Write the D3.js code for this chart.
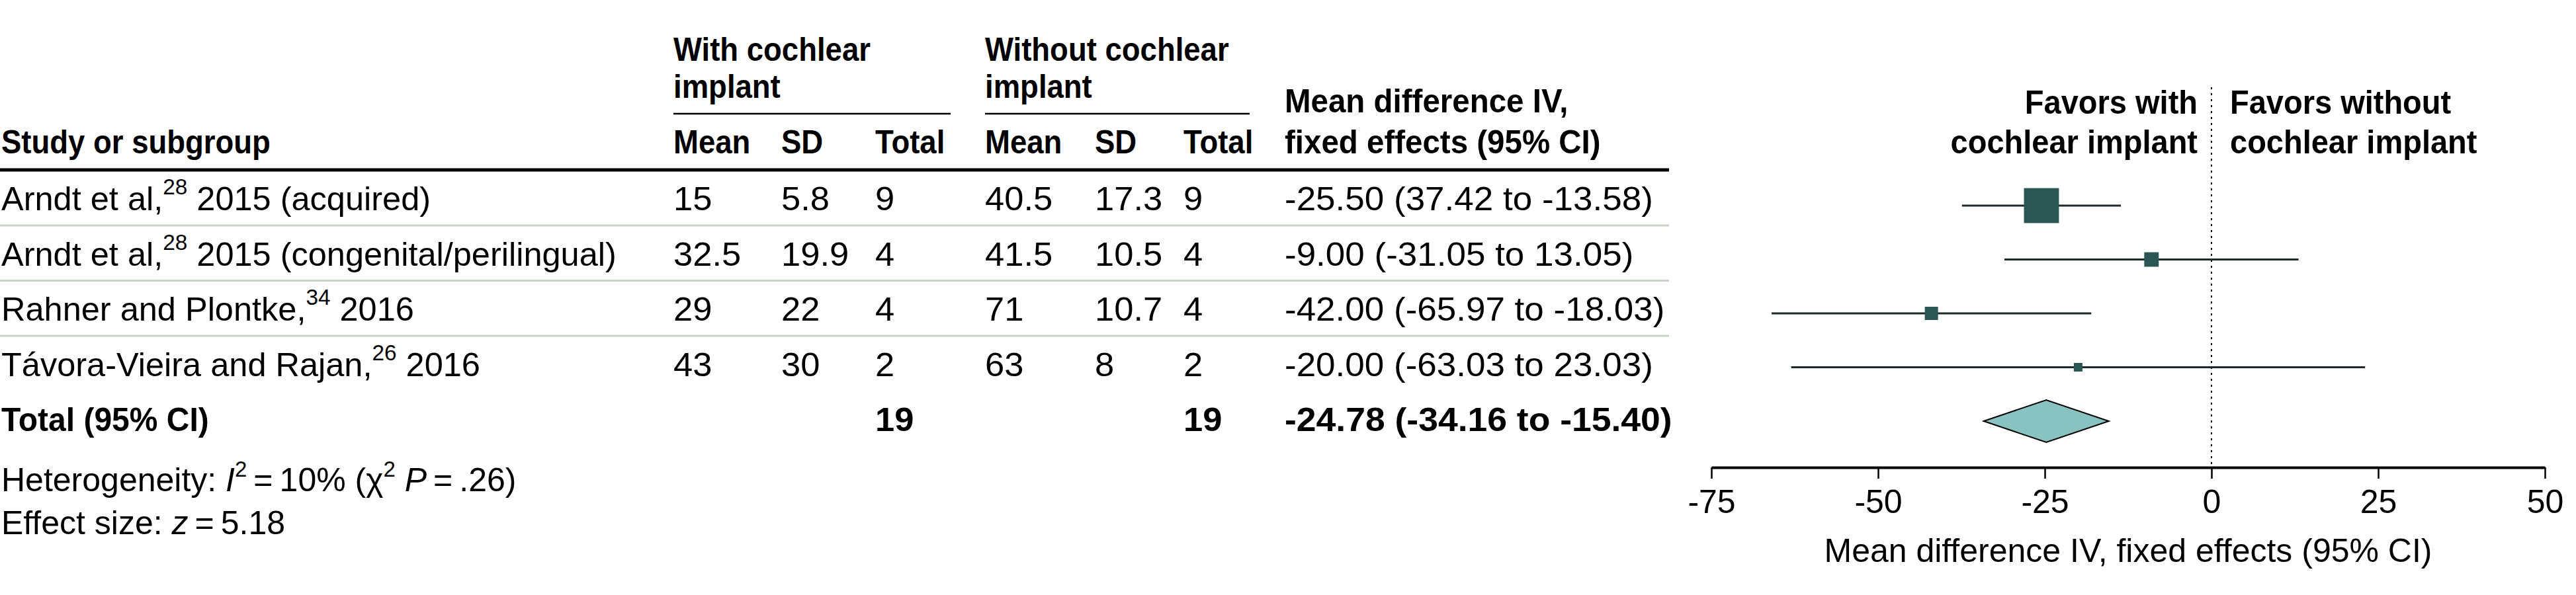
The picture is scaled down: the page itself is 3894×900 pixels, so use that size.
<!DOCTYPE html>
<html>
<head>
<meta charset="utf-8">
<script src="https://cdn.jsdelivr.net/npm/d3@7"></script>
<style>
  body { margin: 0; background: #fff; }
  text { font-family: "Liberation Sans", Arial, sans-serif; fill: #000; }
</style>
</head>
<body>
<div id="chart"></div>
<script>
// study rows
var studyNames = ["Arndt et al,", "Arndt et al,", "Rahner and Plontke,", "Távora-Vieira and Rajan,"];
var studyRefs = ["28", "28", "34", "26"];
var studyTails = ["2015 (acquired)", "2015 (congenital/perilingual)", "2016", "2016"];

var withMean = [15, 32.5, 29, 43];
var withSD = [5.8, 19.9, 22, 30];
var withN = [9, 4, 4, 2];
var withoutMean = [40.5, 41.5, 71, 63];
var withoutSD = [17.3, 10.5, 10.7, 8];
var withoutN = [9, 4, 4, 2];

var mdValue = [-25.50, -9.00, -42.00, -20.00];
var mdLow = [-37.42, -31.05, -65.97, -63.03];
var mdHigh = [-13.58, 13.05, -18.03, 23.03];
var mdText = ["-25.50 (37.42 to -13.58)", "-9.00 (-31.05 to 13.05)", "-42.00 (-65.97 to -18.03)", "-20.00 (-63.03 to 23.03)"];
// approximate weights (%)
var weights = [72.7, 12.5, 10.4, 4.4];

var totalN = [19, 19];
var totalMd = [-24.78, -34.16, -15.40];
var totalText = "-24.78 (-34.16 to -15.40)";

var tickValues = [-75, -50, -25, 0, 25, 50];
var tickLabels = ["-75", "-50", "-25", "0", "25", "50"];

var W = 3894, H = 900, FS = 50;
// horizontal squeeze so Liberation Sans widths follow the original face
var BOLD_SX = 0.91, BODY_SX = 1.01, NUM_SX = 1.05;

var svg = d3.select("#chart").append("svg")
    .attr("width", W).attr("height", H)
    .style("display", "block");

// columns of the table
var col = {study: 2, mean1: 1018, sd1: 1181, n1: 1323, mean2: 1489, sd2: 1655, n2: 1789, md: 1942};
var yRow = d3.scaleLinear().domain([0, 4]).range([318, 652]);

function txt(x, y, s, bold, sx) {
    sx = sx || (bold ? BOLD_SX : 1);
    return svg.append("text")
        .attr("transform", "translate(" + x + "," + y + ") scale(" + sx + ",1)")
        .style("font-size", FS + "px")
        .style("font-weight", bold ? "bold" : "normal")
        .text(s);
}

// header
txt(col.mean1, 92, "With cochlear", true);
txt(col.mean1, 148, "implant", true);
txt(col.mean2, 92, "Without cochlear", true);
txt(col.mean2, 148, "implant", true);
svg.append("line").attr("x1", col.mean1).attr("x2", 1437).attr("y1", 172).attr("y2", 172)
    .attr("stroke", "#000").attr("stroke-width", 2.5);
svg.append("line").attr("x1", col.mean2).attr("x2", 1889).attr("y1", 172).attr("y2", 172)
    .attr("stroke", "#000").attr("stroke-width", 2.5);
txt(col.md, 170, "Mean difference IV,", true, 0.95);
txt(col.md, 232, "fixed effects (95% CI)", true, 0.95);
txt(col.study, 232, "Study or subgroup", true);
[["Mean", col.mean1], ["SD", col.sd1], ["Total", col.n1],
 ["Mean", col.mean2], ["SD", col.sd2], ["Total", col.n2]].forEach(function(h) {
    txt(h[1], 232, h[0], true);
});

svg.append("line").attr("x1", 0).attr("x2", 2523).attr("y1", 257).attr("y2", 257)
    .attr("stroke", "#000").attr("stroke-width", 5);

// row separators
svg.selectAll("line.sep").data(d3.range(studyNames.length - 1)).enter()
    .append("line").attr("class", "sep")
    .attr("x1", 0).attr("x2", 2523)
    .attr("y1", function(d) { return yRow(d) + 23; })
    .attr("y2", function(d) { return yRow(d) + 23; })
    .attr("stroke", "#c6d5c3").attr("stroke-width", 3);

// study rows
studyNames.forEach(function(name, i) {
    var y = yRow(i);
    var t = txt(col.study, y, "", false, BODY_SX);
    t.append("tspan").text(name);
    t.append("tspan").attr("dy", -24).style("font-size", "33px").text(studyRefs[i]);
    t.append("tspan").attr("dy", 24).text(" " + studyTails[i]);
    txt(col.mean1, y, String(withMean[i]), false, NUM_SX);
    txt(col.sd1, y, String(withSD[i]), false, NUM_SX);
    txt(col.n1, y, String(withN[i]), false, NUM_SX);
    txt(col.mean2, y, String(withoutMean[i]), false, NUM_SX);
    txt(col.sd2, y, String(withoutSD[i]), false, NUM_SX);
    txt(col.n2, y, String(withoutN[i]), false, NUM_SX);
    txt(col.md, y, mdText[i], false, 1.06);
});

// total row
txt(col.study, yRow(4), "Total (95% CI)", true, 0.96);
txt(col.n1, yRow(4), String(totalN[0]), true, 1.05);
txt(col.n2, yRow(4), String(totalN[1]), true, 1.05);
txt(col.md, yRow(4), totalText, true, 1.07);

// heterogeneity and effect size
var het = txt(col.study, 743, "");
het.append("tspan").text("Heterogeneity: ");
het.append("tspan").style("font-style", "italic").text("I");
het.append("tspan").attr("dy", -22).style("font-size", "33px").text("2");
het.append("tspan").attr("dy", 22).text("\u2009=\u200910% (\u03c7");
het.append("tspan").attr("dy", -22).style("font-size", "33px").text("2");
het.append("tspan").attr("dy", 22).text(" ");
het.append("tspan").style("font-style", "italic").text("P");
het.append("tspan").text("\u2009=\u2009.26)");

var eff = txt(col.study, 808, "");
eff.append("tspan").text("Effect size: ");
eff.append("tspan").style("font-style", "italic").text("z");
eff.append("tspan").text("\u2009=\u20095.18");

// forest plot
var x = d3.scaleLinear().domain([-75, 50]).range([2587, 3847]);
var yPlot = d3.scaleLinear().domain([0, 4]).range([311, 637]);
var size = d3.scaleSqrt().domain([0, 100]).range([0, 62]);
var axisY = 707;

svg.append("line")
    .attr("x1", x(0)).attr("x2", x(0))
    .attr("y1", 132).attr("y2", axisY)
    .attr("stroke", "#000").attr("stroke-width", 2)
    .attr("stroke-dasharray", "3,6");

var rows = svg.append("g").selectAll("g").data(mdValue).enter().append("g");
rows.append("line")
    .attr("x1", function(d, i) { return x(mdLow[i]); })
    .attr("x2", function(d, i) { return x(mdHigh[i]); })
    .attr("y1", function(d, i) { return yPlot(i); })
    .attr("y2", function(d, i) { return yPlot(i); })
    .attr("stroke", "#1b2a2a").attr("stroke-width", 3);
rows.append("rect")
    .attr("x", function(d, i) { return x(d) - size(weights[i]) / 2; })
    .attr("y", function(d, i) { return yPlot(i) - size(weights[i]) / 2; })
    .attr("width", function(d, i) { return size(weights[i]); })
    .attr("height", function(d, i) { return size(weights[i]); })
    .attr("fill", "#2b5654");

var dy = yPlot(4), dh = 32;
svg.append("path")
    .attr("d", "M" + x(totalMd[1]) + "," + dy + "L" + x(totalMd[0]) + "," + (dy - dh) +
               "L" + x(totalMd[2]) + "," + dy + "L" + x(totalMd[0]) + "," + (dy + dh) + "Z")
    .attr("fill", "#88c3c2").attr("stroke", "#000").attr("stroke-width", 2);

var axis = d3.axisBottom(x)
    .tickValues(tickValues)
    .tickFormat(function(d, i) { return tickLabels[i]; })
    .tickSize(17).tickSizeOuter(0).tickPadding(16);
var ax = svg.append("g").attr("transform", "translate(0," + axisY + ")").call(axis);
ax.select(".domain").attr("stroke-width", 4);
ax.selectAll(".tick line").attr("stroke-width", 2.5);
ax.selectAll(".tick text").style("font-size", FS + "px")
    .style("font-family", "'Liberation Sans', Arial, sans-serif");

svg.append("text")
    .attr("x", (x.range()[0] + x.range()[1]) / 2).attr("y", 850)
    .attr("text-anchor", "middle")
    .style("font-size", FS + "px")
    .text("Mean difference IV, fixed effects (95% CI)");

txt(3322, 172, "Favors with", true, 0.94).attr("text-anchor", "end");
txt(3322, 232, "cochlear implant", true, 0.94).attr("text-anchor", "end");
txt(3371, 172, "Favors without", true, 0.94);
txt(3371, 232, "cochlear implant", true, 0.94);
</script>
</body>
</html>
